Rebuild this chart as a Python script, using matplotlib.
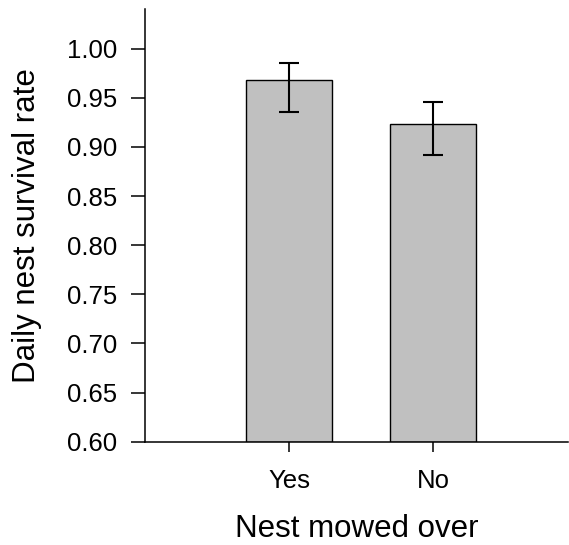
import matplotlib
matplotlib.use("Agg")
import matplotlib.pyplot as plt
import numpy as np

# Daily nest survival estimates with asymmetric confidence limits
categories = ["Yes", "No"]
survival = [0.968, 0.923]
upper_ci = [0.985, 0.946]
lower_ci = [0.935, 0.892]

plt.rcParams["font.family"] = ["Liberation Sans", "DejaVu Sans"]

fig = plt.figure(figsize=(5.69, 5.45), dpi=100)
ax = fig.add_axes([0.2548, 0.1895, 0.744, 0.7935])

x = np.arange(1, len(categories) + 1)
surv = np.array(survival)
yerr = [surv - np.array(lower_ci), np.array(upper_ci) - surv]

ax.bar(x, surv - 0.6, bottom=0.6, width=0.6, color="#c0c0c0",
       edgecolor="black", linewidth=1.0, zorder=2)
ax.errorbar(x, surv, yerr=yerr, fmt="none", ecolor="black",
            elinewidth=1.5, capsize=7.5, capthick=1.5, zorder=3)

ax.set_xlim(0, 2.94)
ax.set_ylim(0.6, 1.04)
ax.set_xticks(x)
ax.set_xticklabels(categories)
ax.set_yticks(np.arange(0.60, 1.001, 0.05))
ax.set_yticklabels([f"{v:.2f}" for v in np.arange(0.60, 1.001, 0.05)])

ax.spines["top"].set_visible(False)
ax.spines["right"].set_visible(False)
for side in ("left", "bottom"):
    ax.spines[side].set_linewidth(1.1)

ax.tick_params(axis="y", length=10, width=1.1, pad=10, labelsize=18.5)
ax.tick_params(axis="x", length=7, width=1.1, pad=12.5, labelsize=18.5)

ax.set_xlabel("Nest mowed over", fontsize=22.5, labelpad=15.5)
ax.set_ylabel("Daily nest survival rate", fontsize=22.5, labelpad=18)

fig.savefig("out.png", dpi=100)
